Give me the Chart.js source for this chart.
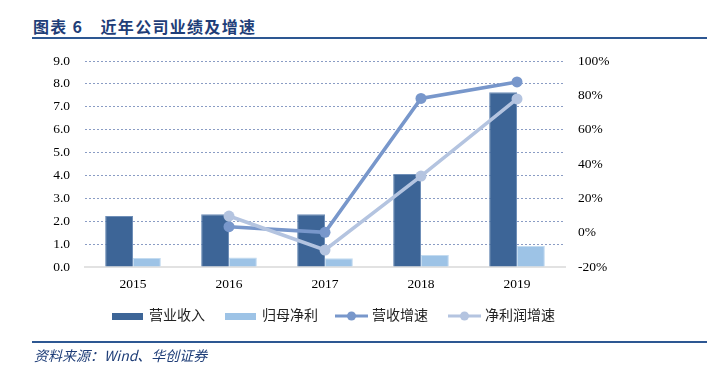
<!DOCTYPE html>
<html lang="zh">
<head>
    <meta charset="UTF-8">
    <title>近年公司业绩及增速</title>
    <style>
        html, body {
            margin: 0;
            padding: 0;
            width: 720px;
            height: 374px;
            background: #fff;
            overflow: hidden;
        }

        #title {
            position: absolute;
            left: 33px;
            top: 14px;
            font-family: "Noto Sans CJK SC", sans-serif;
            font-weight: bold;
            font-size: 16px;
            color: #1f3e78;
            letter-spacing: 1.3px;
        }

        .rule {
            position: absolute;
            left: 32px;
            width: 675px;
            height: 2px;
            background: #2d5792;
        }

        #source {
            position: absolute;
            left: 34px;
            top: 345px;
            font-family: "Noto Sans CJK SC", sans-serif;
            font-style: italic;
            font-size: 14px;
            color: #1f3e78;
        }

        #chart-box {
            position: absolute;
            left: 0;
            top: 0;
            width: 720px;
            height: 374px;
        }

        #legend {
            position: absolute;
            top: 305px;
            left: 0;
            width: 720px;
            font-family: "Noto Sans CJK SC", sans-serif;
            font-size: 14px;
            color: #222;
        }

        .item {
            position: absolute;
            top: 0;
            height: 18px;
            line-height: 18px;
            white-space: nowrap;
        }

        .item canvas {
            vertical-align: middle;
            margin-right: 4px;
        }
    </style>
</head>
<body>
    <div id="title">图表 6　近年公司业绩及增速</div>
    <div class="rule" style="top: 37px;"></div>

    <div id="chart-box">
        <canvas id="chart" width="720" height="374"></canvas>
    </div>

    <div id="legend"></div>

    <div class="rule" style="top: 341px;"></div>
    <div id="source">资料来源：Wind、华创证券</div>

    <script src="https://cdn.jsdelivr.net/npm/chart.js"></script>
    <script>
        const years = ['2015', '2016', '2017', '2018', '2019'];
        const revenue = [2.23, 2.3, 2.3, 4.06, 7.64];
        const netProfit = [0.39, 0.42, 0.38, 0.52, 0.92];
        const revenueGrowth = [null, 3.5, 0.2, 78.2, 87.8];
        const profitGrowth = [null, 9.7, -10.1, 33, 77.9];
        const leftTicks = [0, 1, 2, 3, 4, 5, 6, 7, 8, 9];
        const rightTicks = [-20, 0, 20, 40, 60, 80, 100];

        const colors = {
            revenue: '#3d6597',
            profit: '#9dc3e6',
            revGrowth: '#7897cb',
            profGrowth: '#b4c4e0'
        };

        const tickFont = { family: '"Liberation Serif", "Times New Roman", serif', size: 13.5 };

        new Chart(document.getElementById('chart'), {
            data: {
                labels: years,
                datasets: [
                    {
                        type: 'line',
                        label: '净利润增速',
                        data: profitGrowth,
                        yAxisID: 'y1',
                        borderColor: colors.profGrowth,
                        backgroundColor: colors.profGrowth,
                        borderWidth: 3.5,
                        pointRadius: 5.5,
                        pointBorderWidth: 0,
                        tension: 0,
                        order: 1
                    },
                    {
                        type: 'line',
                        label: '营收增速',
                        data: revenueGrowth,
                        yAxisID: 'y1',
                        borderColor: colors.revGrowth,
                        backgroundColor: colors.revGrowth,
                        borderWidth: 3.5,
                        pointRadius: 5.5,
                        pointBorderWidth: 0,
                        tension: 0,
                        order: 2
                    },
                    {
                        type: 'bar',
                        label: '营业收入',
                        data: revenue,
                        yAxisID: 'y',
                        backgroundColor: colors.revenue,
                        borderColor: '#6f8fb8',
                        borderWidth: 1,
                        categoryPercentage: 0.58,
                        barPercentage: 1,
                        order: 3
                    },
                    {
                        type: 'bar',
                        label: '归母净利',
                        data: netProfit,
                        yAxisID: 'y',
                        backgroundColor: colors.profit,
                        borderColor: '#c3dbf0',
                        borderWidth: 1,
                        categoryPercentage: 0.58,
                        barPercentage: 1,
                        order: 3
                    }
                ]
            },
            options: {
                responsive: false,
                animation: false,
                layout: {
                    padding: { top: 61, bottom: 0, left: 0, right: 0 }
                },
                plugins: {
                    legend: { display: false },
                    tooltip: { enabled: false }
                },
                scales: {
                    x: {
                        afterFit: scale => { scale.height = 107; },
                        grid: { display: false, drawTicks: false },
                        border: { display: true, color: '#e2e2e2', width: 2 },
                        ticks: { font: tickFont, color: '#000', padding: 9 }
                    },
                    y: {
                        position: 'left',
                        min: 0,
                        max: 9,
                        afterFit: scale => { scale.width = 85; },
                        afterBuildTicks: scale => {
                            scale.ticks = leftTicks.map(v => ({ value: v }));
                        },
                        border: { display: false, dash: [2, 2] },
                        grid: {
                            drawTicks: false,
                            color: c => c.tick && c.tick.value === 0 ? 'rgba(0,0,0,0)' : '#8a9cc4',
                            lineWidth: 1
                        },
                        ticks: {
                            font: tickFont,
                            color: '#000',
                            padding: 15,
                            callback: v => v.toFixed(1)
                        }
                    },
                    y1: {
                        position: 'right',
                        min: -20,
                        max: 100,
                        afterFit: scale => { scale.width = 155; },
                        afterBuildTicks: scale => {
                            scale.ticks = rightTicks.map(v => ({ value: v }));
                        },
                        border: { display: false },
                        grid: { display: false, drawTicks: false },
                        ticks: {
                            font: tickFont,
                            color: '#000',
                            padding: 13,
                            callback: v => v + '%'
                        }
                    }
                }
            }
        });

        // legend built from the same series names and colours
        const legendItems = [
            { name: '营业收入', kind: 'bar', color: colors.revenue, x: 112 },
            { name: '归母净利', kind: 'bar', color: colors.profit, x: 225 },
            { name: '营收增速', kind: 'line', color: colors.revGrowth, x: 335 },
            { name: '净利润增速', kind: 'line', color: colors.profGrowth, x: 448 }
        ];

        const legendDiv = document.getElementById('legend');
        legendItems.forEach(item => {
            const el = document.createElement('div');
            el.className = 'item';
            el.style.left = item.x + 'px';
            const sw = document.createElement('canvas');
            sw.width = 33;
            sw.height = 12;
            const g = sw.getContext('2d');
            g.fillStyle = item.color;
            g.strokeStyle = item.color;
            if (item.kind === 'bar') {
                g.fillRect(0, 3, 31, 7);
            } else {
                g.lineWidth = 3;
                g.beginPath();
                g.moveTo(0, 6);
                g.lineTo(33, 6);
                g.stroke();
                g.beginPath();
                g.arc(16.5, 6, 4.5, 0, Math.PI * 2);
                g.fill();
            }
            el.appendChild(sw);
            el.appendChild(document.createTextNode(item.name));
            legendDiv.appendChild(el);
        });
    </script>
</body>
</html>
